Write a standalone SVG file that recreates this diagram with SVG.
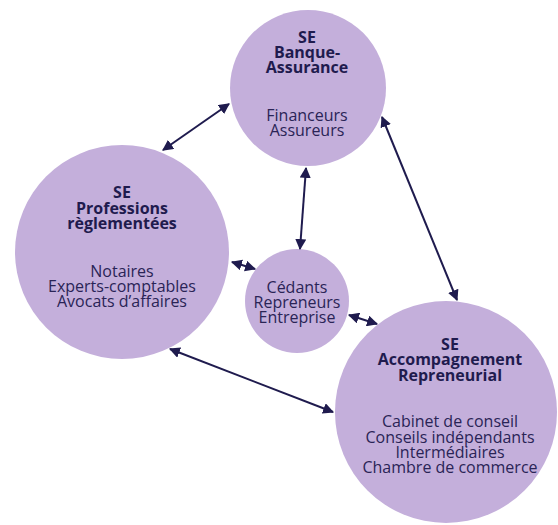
<svg xmlns="http://www.w3.org/2000/svg" width="558" height="525" viewBox="0 0 558 525">
<defs>
<marker id="ah" viewBox="0 0 10 10" refX="9" refY="5" markerWidth="5.5" markerHeight="5.5" markerUnits="strokeWidth" orient="auto-start-reverse">
<path d="M0,0 L10,5 L0,10 z" fill="#1f1b4e"/>
</marker>
</defs>
<style>
.c{fill:#c4afdb}
.t{font-family:"Open Sans",sans-serif;fill:#2a2456;text-anchor:middle;font-size:16px}
.b{font-weight:bold;fill:#1f1b4e}
.l{stroke:#1f1b4e;stroke-width:2;fill:none;marker-start:url(#ah);marker-end:url(#ah)}
</style>
<rect width="558" height="525" fill="#ffffff"/>
<g id="banque">
<circle class="c" cx="308" cy="88" r="78"/>
<text class="t b" x="307" y="43">SE</text>
<text class="t b" x="307" y="58">Banque-</text>
<text class="t b" x="307" y="73">Assurance</text>
<text class="t" x="307" y="121">Financeurs</text>
<text class="t" x="307" y="136">Assureurs</text>
</g>
<g id="professions">
<circle class="c" cx="122" cy="252" r="107"/>
<text class="t b" x="122" y="198">SE</text>
<text class="t b" x="122" y="214">Professions</text>
<text class="t b" x="122" y="229">règlementées</text>
<text class="t" x="122" y="277">Notaires</text>
<text class="t" x="122" y="292">Experts-comptables</text>
<text class="t" x="122" y="307">Avocats d’affaires</text>
</g>
<g id="centre">
<circle class="c" cx="297" cy="301" r="52"/>
<text class="t" x="297" y="293">Cédants</text>
<text class="t" x="297" y="308">Repreneurs</text>
<text class="t" x="297" y="323">Entreprise</text>
</g>
<g id="accompagnement">
<circle class="c" cx="446" cy="412" r="111"/>
<text class="t b" x="450" y="350">SE</text>
<text class="t b" x="450" y="365">Accompagnement</text>
<text class="t b" x="450" y="381">Repreneurial</text>
<text class="t" x="450" y="427">Cabinet de conseil</text>
<text class="t" x="450" y="443">Conseils indépendants</text>
<text class="t" x="450" y="458">Intermédiaires</text>
<text class="t" x="450" y="473">Chambre de commerce</text>
</g>
<g id="connectors">
<line class="l" x1="163" y1="150" x2="229" y2="104"/>
<line class="l" x1="306" y1="168" x2="300" y2="249"/>
<line class="l" x1="382" y1="117" x2="457" y2="300"/>
<line class="l" x1="232" y1="262" x2="255" y2="269"/>
<line class="l" x1="349" y1="315" x2="377" y2="324"/>
<line class="l" x1="170" y1="349" x2="333" y2="412"/>
</g>
</svg>
